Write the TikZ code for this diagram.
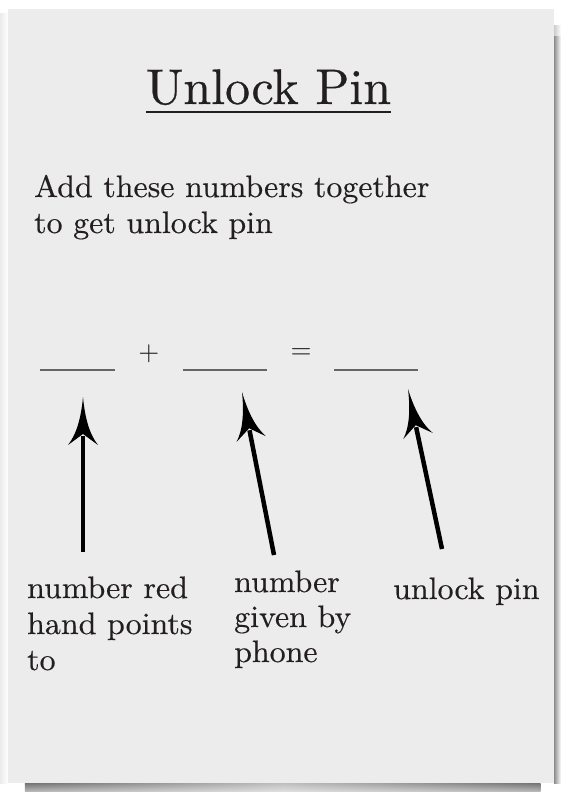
\documentclass[tikz,border=0pt]{standalone}
\usepackage{fontspec}
\setmainfont{lmroman10-regular}[Extension=.otf]
\newfontfamily\bodyfont{lmroman10-regular}[Extension=.otf, FakeStretch=1.03, FakeBold=0.4]
\newfontfamily\headfont{lmroman10-regular}[Extension=.otf, FakeBold=0.5]
\usetikzlibrary{arrows.meta,fadings}
\definecolor{ink}{HTML}{231F20}
\definecolor{cardc}{HTML}{ECECEC}
\definecolor{blankc}{HTML}{666666}
\tikzfading[name=midfade, left color=transparent!0, right color=transparent!0, middle color=transparent!55]
\pgfdeclarearrow{
  name = Curvy,
  setup code = {
    \pgfarrowssettipend{0pt}
    \pgfarrowssetlineend{-39pt}
    \pgfarrowssetbackend{-48pt}
    \pgfarrowshullpoint{0pt}{0pt}
    \pgfarrowsupperhullpoint{-48pt}{15pt}
  },
  drawing code = {
    \pgfpathmoveto{\pgfpointorigin}
    \pgfpathcurveto{\pgfpoint{-22pt}{2pt}}{\pgfpoint{-38pt}{7pt}}{\pgfpoint{-48pt}{15pt}}
    \pgfpathlineto{\pgfpoint{-37pt}{0pt}}
    \pgfpathlineto{\pgfpoint{-48pt}{-15pt}}
    \pgfpathcurveto{\pgfpoint{-38pt}{-7pt}}{\pgfpoint{-22pt}{-2pt}}{\pgfpointorigin}
    \pgfpathclose
    \pgfusepathqfill
  }
}
\tikzset{
  titletext/.style={text=ink, inner sep=0pt, font=\headfont\fontsize{50}{60}\selectfont},
  bodytext/.style={text=ink, inner sep=0pt, anchor=base west, font=\bodyfont\fontsize{31}{36}\selectfont},
  optext/.style={text=ink, inner sep=0pt, font=\fontsize{27}{30}\selectfont},
  blankline/.style={draw=blankc, line width=1.7pt},
  pointer/.style={draw=black, fill=black, line width=4.5pt, -{Curvy}},
  underl/.style={draw=ink, line width=2pt}
}
\begin{document}
\begin{tikzpicture}[x=1pt,y=-1pt]
\useasboundingbox (0,0) rectangle (562,792);
\fill[white] (0,0) rectangle (562,792);
% shadows
\shade[left color=black!8, right color=white] (0,14) rectangle (8,783);
\shade[left color=black!45, right color=white] (554,36) rectangle (561,783);
\shade[left color=black!20, right color=white] (554,26) rectangle (561,36);
\shade[top color=black!55, bottom color=black!25, path fading=midfade] (25,783) rectangle (541,792);
\fill[cardc] (8,9) rectangle (554,783);
% title
\node[titletext, anchor=base] (title) at (268.5,104) {Unlock Pin};
\draw[underl] ([yshift=-8pt]title.base west) -- ([yshift=-8pt]title.base east);
% instructions
\node[bodytext] (d1) at (34,197) {Add these numbers together};
\node[bodytext] (d2) at (34,233) {to get unlock pin};
% blanks
\coordinate (b1l) at (40,370); \coordinate (b1r) at (115,370);
\coordinate (b2l) at (183,370); \coordinate (b2r) at (267,370);
\coordinate (b3l) at (334,370); \coordinate (b3r) at (418,370);
\draw[blankline] (b1l) -- (b1r);
\draw[blankline] (b2l) -- (b2r);
\draw[blankline] (b3l) -- (b3r);
\node[optext] (plus) at (149,354) {+};
\node[optext] (eq) at (301,354) {=};
% labels
\node[bodytext] (l1a) at (27,598) {number red};
\node[bodytext] (l1b) at (27,634) {hand points};
\node[bodytext] (l1c) at (27,670) {to};
\node[bodytext] (l2a) at (234,592) {number};
\node[bodytext] (l2b) at (234,627) {given by};
\node[bodytext] (l2c) at (234,662) {phone};
\node[bodytext] (l3a) at (393,599) {unlock pin};
% pointers
\coordinate (p1s) at (83,552); \coordinate (p1e) at (83,397);
\coordinate (p2s) at (274,555); \coordinate (p2e) at (242,392);
\coordinate (p3s) at (442,549); \coordinate (p3e) at (408,389);
\draw[pointer] (p1s) -- (p1e);
\draw[pointer] (p2s) -- (p2e);
\draw[pointer] (p3s) -- (p3e);
\end{tikzpicture}
\end{document}
